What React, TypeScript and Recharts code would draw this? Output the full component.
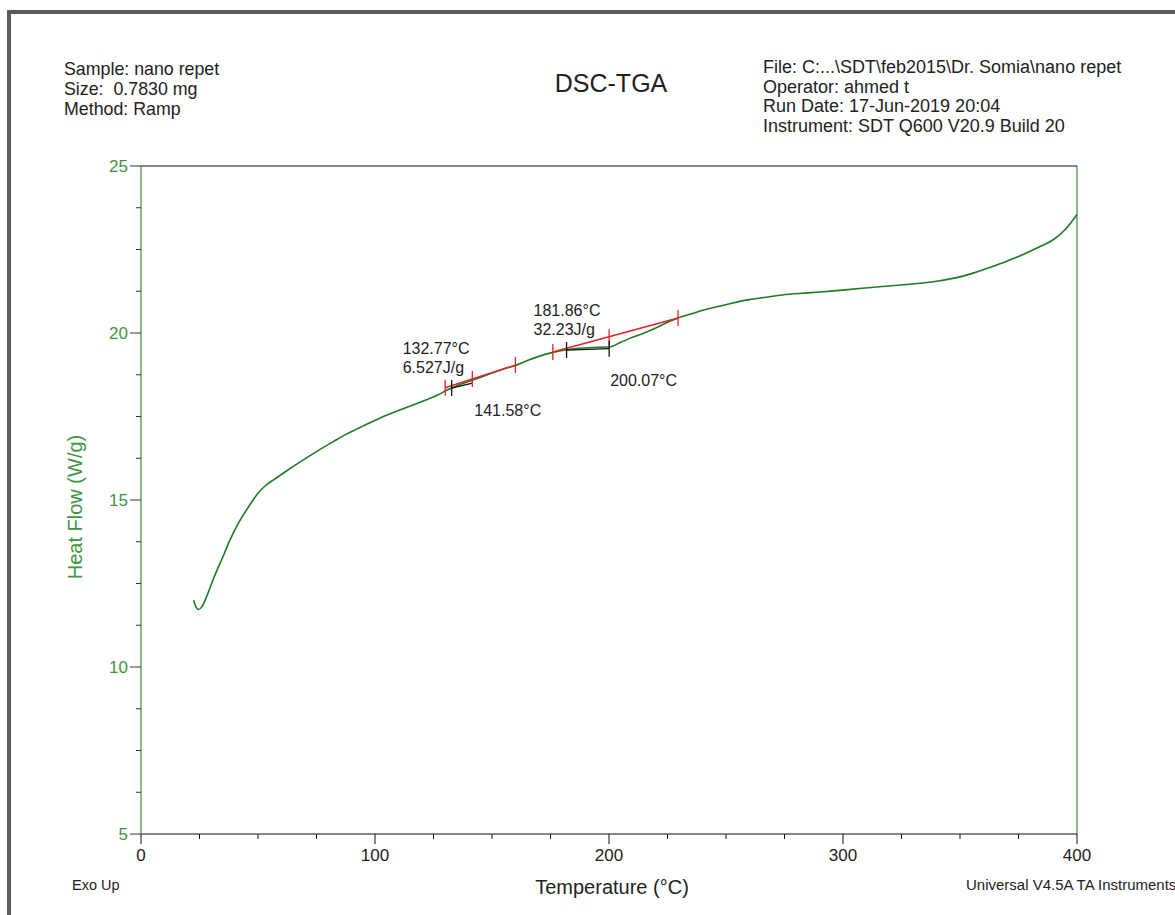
import React from 'react';
import { ComposedChart, Line, XAxis, YAxis, ReferenceLine, ReferenceDot } from 'recharts';

// ---- main DSC curve: temperature (°C) vs heat flow (W/g) ----
const temperature = [22.5, 23.5, 24.5, 26, 28, 31, 35, 38, 42, 46, 50, 53, 57, 62, 68, 75, 82, 88, 95, 102, 110, 116, 122, 127, 131, 135, 140, 145, 150, 155, 160, 165, 170, 176, 182, 188, 194, 200, 205, 210, 215, 220, 225, 229.5, 235, 240, 247, 253, 260, 267, 274, 285, 296, 307, 318, 327, 340, 350, 356, 363, 370, 377, 384, 390, 395, 400];
const heatFlow = [12.0, 11.8, 11.72, 11.8, 12.1, 12.65, 13.3, 13.8, 14.35, 14.8, 15.2, 15.42, 15.62, 15.86, 16.14, 16.45, 16.74, 16.98, 17.22, 17.45, 17.68, 17.84, 18.0, 18.15, 18.3, 18.42, 18.55, 18.67, 18.8, 18.92, 19.03, 19.17, 19.3, 19.42, 19.5, 19.55, 19.57, 19.58, 19.72, 19.87, 20.0, 20.15, 20.32, 20.45, 20.57, 20.68, 20.8, 20.9, 21.0, 21.07, 21.14, 21.2, 21.26, 21.33, 21.4, 21.45, 21.55, 21.68, 21.8, 21.97, 22.15, 22.35, 22.58, 22.8, 23.1, 23.55];

// ---- integration baselines (red) and onset lines (black) ----
const baseline1T = [130, 160];
const baseline1HF = [18.36, 19.04];
const baseline2T = [176, 229.5];
const baseline2HF = [19.43, 20.45];
const onset1T = [132.77, 141.58];
const onset1HF = [18.35, 18.5];
const onset2T = [181.86, 200.07];
const onset2HF = [19.49, 19.53];

// tick marks on the analysis lines
const redMarkT = [130, 141.58, 160, 176, 200.07, 229.5];
const redMarkHF = [18.36, 18.62, 19.04, 19.43, 19.87, 20.45];
const blackMarkT = [132.77, 181.86, 200.07];
const blackMarkHF = [18.35, 19.49, 19.53];

// annotation texts, anchored at analysis points
const noteT = [132.77, 141.58, 181.86, 200.07];
const noteHF = [18.35, 18.5, 19.49, 19.53];
const noteLines = [['132.77°C', '6.527J/g'], ['141.58°C'], ['181.86°C', '32.23J/g'], ['200.07°C']];

// ---- axes ----
const xTicks = [0, 25, 50, 75, 100, 125, 150, 175, 200, 225, 250, 275, 300, 325, 350, 375, 400];
const xMajor = [0, 100, 200, 300, 400];
const yTicks = [5, 6.25, 7.5, 8.75, 10, 11.25, 12.5, 13.75, 15, 16.25, 17.5, 18.75, 20, 21.25, 22.5, 23.75, 25];
const yMajor = [5, 10, 15, 20, 25];

// ---- header / footer text ----
const headerLeft = ['Sample: nano repet', 'Size:  0.7830 mg', 'Method: Ramp'];
const headerRight = ['File: C:...\\SDT\\feb2015\\Dr. Somia\\nano repet', 'Operator: ahmed t', 'Run Date: 17-Jun-2019 20:04', 'Instrument: SDT Q600 V20.9 Build 20'];
const title = 'DSC-TGA';
const xLabel = 'Temperature (°C)';
const yLabel = 'Heat Flow (W/g)';
const footLeft = 'Exo Up';
const footRight = 'Universal V4.5A TA Instruments';

const curveData = temperature.map((t, i) => ({ T: t, HF: heatFlow[i] }));
const pairs = (ts: number[], hs: number[]) => ts.map((t, i) => ({ T: t, HF: hs[i] }));

const FONT = '"Liberation Sans", Arial, sans-serif';
const GREEN_LINE = '#1f7a24';
const GREEN_AXIS = '#3b8a3b';
const GREEN_TEXT = '#3f9440';

const XTick = (props: any) => {
  const { x, y, payload } = props;
  const major = xMajor.includes(payload.value);
  return (
    <g>
      <line x1={x} y1={y} x2={x} y2={y + (major ? 10 : 5)} stroke="#111" strokeWidth={1} />
      {major && (
        <text x={x} y={y + 27} textAnchor="middle" fontSize={17} fill="#222" fontFamily={FONT}>
          {payload.value}
        </text>
      )}
    </g>
  );
};

const YTick = (props: any) => {
  const { x, y, payload } = props;
  const major = yMajor.includes(payload.value);
  return (
    <g>
      <line x1={x} y1={y} x2={x - (major ? 11 : 5)} y2={y} stroke="#333" strokeWidth={1} />
      {major && (
        <text x={x - 13} y={y + 6} textAnchor="end" fontSize={17} fill={GREEN_TEXT} fontFamily={FONT}>
          {payload.value}
        </text>
      )}
    </g>
  );
};

const markShape = (color: string) => (p: any) => (
  <line x1={p.cx} y1={p.cy - 8} x2={p.cx} y2={p.cy + 8} stroke={color} strokeWidth={1.3} />
);

const noteOffsets = [
  { dx: -49, dy: -34 },
  { dx: 2, dy: 33 },
  { dx: -33, dy: -34 },
  { dx: 1, dy: 37 },
];

const noteShape = (idx: number) => (p: any) => (
  <text x={p.cx + noteOffsets[idx].dx} y={p.cy + noteOffsets[idx].dy} fontSize={16} fill="#222" fontFamily={FONT}>
    {noteLines[idx].map((s, k) => (
      <tspan key={k} x={p.cx + noteOffsets[idx].dx} dy={k === 0 ? 0 : 19}>
        {s}
      </tspan>
    ))}
  </text>
);

export default function App() {
  return (
    <div style={{ position: 'relative', width: 1175, height: 915, overflow: 'hidden', background: '#fff' }}>
      <style>{'body{margin:0;overflow:hidden}'}</style>
      <div
        style={{
          position: 'absolute',
          left: 7,
          top: 10,
          width: 1300,
          height: 1000,
          borderLeft: '4px solid #5c5c5c',
          borderTop: '4px solid #5c5c5c',
        }}
      />
      <div style={{ position: 'absolute', left: 0, top: 0 }}>
        <ComposedChart width={1175} height={915} margin={{ top: 166, right: 98, bottom: 41, left: 81 }}>
          <XAxis
            type="number"
            dataKey="T"
            domain={[0, 400]}
            ticks={xTicks}
            tick={<XTick />}
            tickSize={0}
            tickMargin={0}
            tickLine={false}
            interval={0}
            height={40}
            axisLine={{ stroke: '#111', strokeWidth: 1.2 }}
          />
          <YAxis
            type="number"
            domain={[5, 25]}
            ticks={yTicks}
            tick={<YTick />}
            tickSize={0}
            tickMargin={0}
            tickLine={false}
            interval={0}
            width={60}
            axisLine={{ stroke: GREEN_AXIS, strokeWidth: 1.2 }}
          />
          <ReferenceLine x={400} stroke={GREEN_AXIS} strokeWidth={1.2} />
          <ReferenceLine y={25} stroke="#111" strokeWidth={1.2} />
          <Line data={curveData} dataKey="HF" type="monotone" stroke={GREEN_LINE} strokeWidth={1.6} dot={false} isAnimationActive={false} />
          <Line data={pairs(baseline1T, baseline1HF)} dataKey="HF" type="linear" stroke="#e0202a" strokeWidth={1.4} dot={false} isAnimationActive={false} />
          <Line data={pairs(baseline2T, baseline2HF)} dataKey="HF" type="linear" stroke="#e0202a" strokeWidth={1.4} dot={false} isAnimationActive={false} />
          <Line data={pairs(onset1T, onset1HF)} dataKey="HF" type="linear" stroke="#111" strokeWidth={1.3} dot={false} isAnimationActive={false} />
          <Line data={pairs(onset2T, onset2HF)} dataKey="HF" type="linear" stroke="#111" strokeWidth={1.3} dot={false} isAnimationActive={false} />
          {redMarkT.map((t, i) => (
            <ReferenceDot key={'r' + i} x={t} y={redMarkHF[i]} r={1} shape={markShape('#e0202a')} />
          ))}
          {blackMarkT.map((t, i) => (
            <ReferenceDot key={'b' + i} x={t} y={blackMarkHF[i]} r={1} shape={markShape('#111')} />
          ))}
          {noteT.map((t, i) => (
            <ReferenceDot key={'n' + i} x={t} y={noteHF[i]} r={1} shape={noteShape(i)} />
          ))}
        </ComposedChart>
      </div>
      <svg width={1175} height={915} style={{ position: 'absolute', left: 0, top: 0, pointerEvents: 'none' }}>
        {headerLeft.map((s, i) => (
          <text key={'hl' + i} x={64} y={75 + i * 20} fontSize={17.8} fill="#222" fontFamily={FONT} style={{ whiteSpace: 'pre' }}>
            {s}
          </text>
        ))}
        <text x={611} y={92} textAnchor="middle" fontSize={25} fill="#222" fontFamily={FONT}>
          {title}
        </text>
        {headerRight.map((s, i) => (
          <text key={'hr' + i} x={763} y={73 + i * 19.5} fontSize={18} fill="#222" fontFamily={FONT}>
            {s}
          </text>
        ))}
        <text x={612} y={894} textAnchor="middle" fontSize={20} fill="#222" fontFamily={FONT}>
          {xLabel}
        </text>
        <text x={82} y={507} textAnchor="middle" fontSize={20} fill={GREEN_TEXT} fontFamily={FONT} transform="rotate(-90 82 507)">
          {yLabel}
        </text>
        <text x={72} y={890} fontSize={14.5} fill="#222" fontFamily={FONT}>
          {footLeft}
        </text>
        <text x={966} y={890} fontSize={15} fill="#222" fontFamily={FONT}>
          {footRight}
        </text>
      </svg>
    </div>
  );
}
